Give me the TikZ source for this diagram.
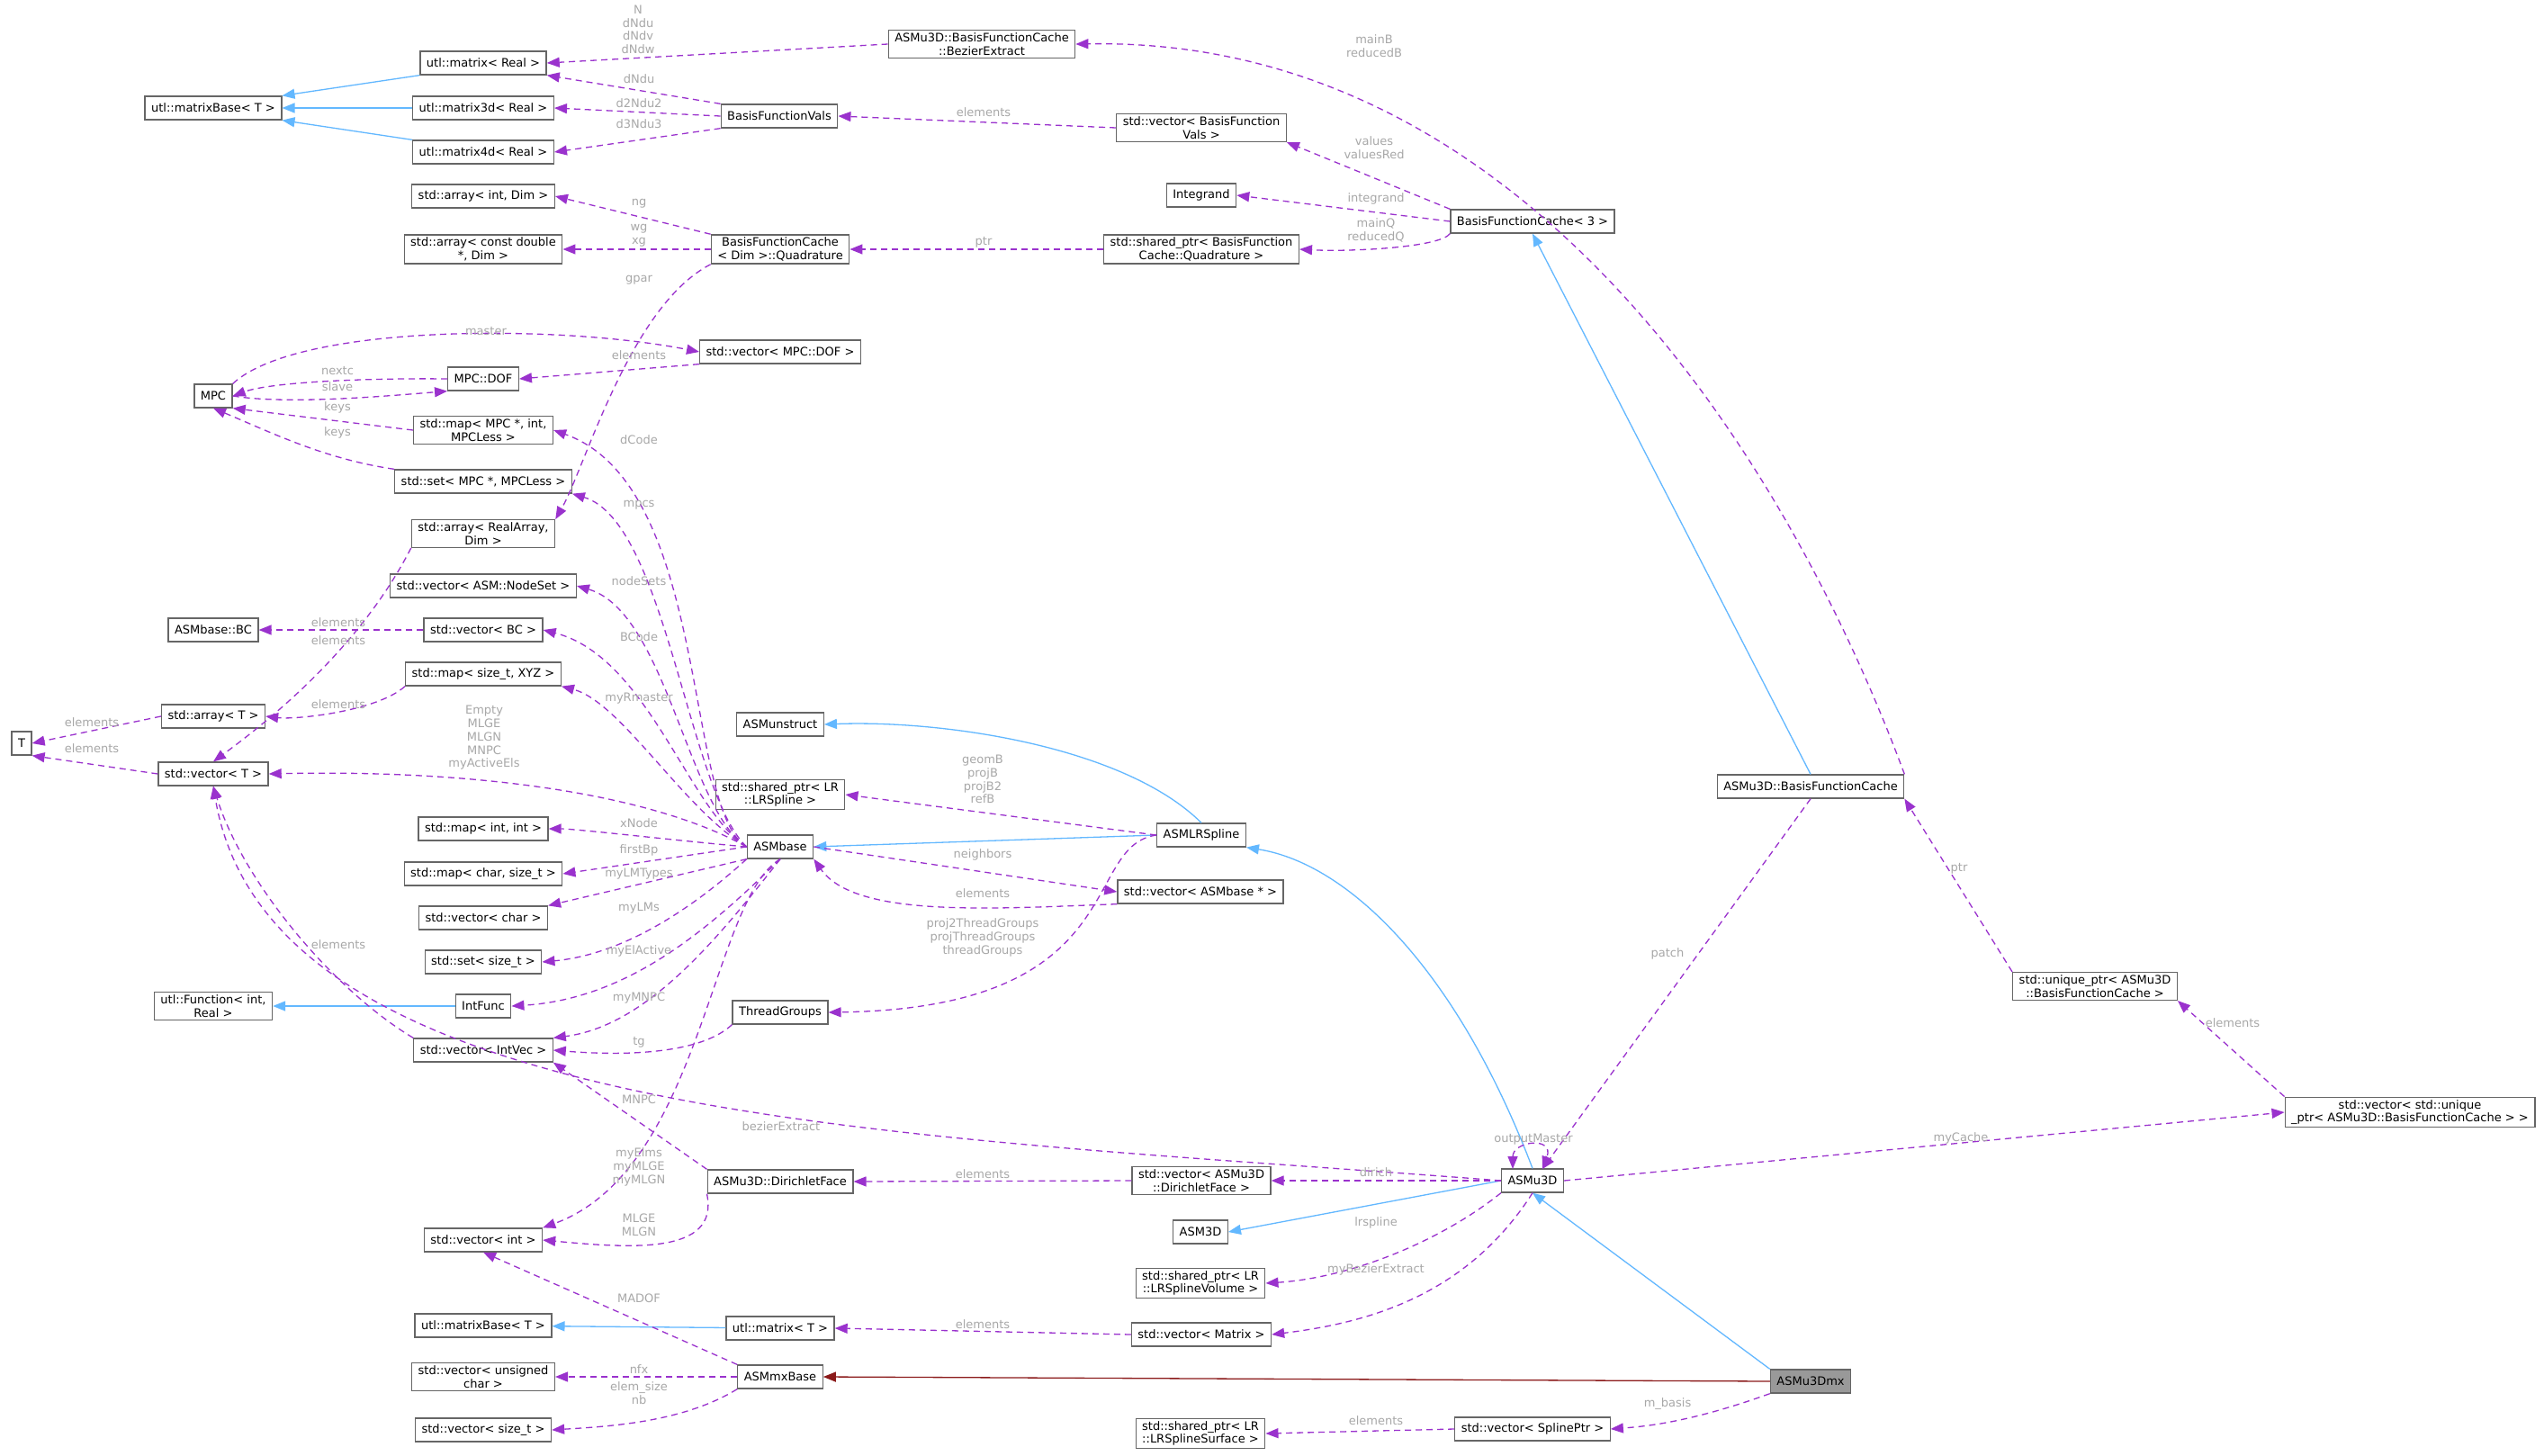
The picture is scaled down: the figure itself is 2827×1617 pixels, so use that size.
\documentclass[tikz,border=0pt]{standalone}
\usepackage{fontspec}
\setmainfont{DejaVu Sans}
\usetikzlibrary{arrows.meta}
\definecolor{usec}{HTML}{9A32CD}
\definecolor{inhc}{HTML}{63B8FF}
\definecolor{prc}{HTML}{8B1A1A}
\definecolor{lblc}{HTML}{A8A8A8}
\definecolor{bdc}{HTML}{666666}
\begin{document}
\begin{tikzpicture}[x=1pt,y=-1pt,
  every node/.style={font=\fontsize{13}{14.7}\selectfont},
  box/.style={draw=bdc,line width=1.3pt,fill=white,inner xsep=7pt,inner ysep=3pt,minimum height=26pt,align=center},
  use/.style={draw=usec,line width=1.3pt,dash pattern=on 7pt off 5pt,-{Triangle[length=14pt,width=11pt]}},
  inh/.style={draw=inhc,line width=1.3pt,-{Triangle[length=14pt,width=11pt]}},
  prot/.style={draw=prc,line width=1.3pt,-{Triangle[length=14pt,width=11pt]}},
  lbl/.style={text=lblc,align=center,inner sep=0pt}]
\useasboundingbox[fill=white] (0,0) rectangle (2827,1617);
% ---------- nodes ----------
\node[box] (mReal) at (537,70) {utl::matrix< Real >};
\node[box] (mBase) at (237,120) {utl::matrixBase< T >};
\node[box] (m3d) at (537,120) {utl::matrix3d< Real >};
\node[box] (m4d) at (537,169) {utl::matrix4d< Real >};
\node[box] (bfv) at (866,129) {BasisFunctionVals};
\node[box] (bez) at (1091,49) {ASMu3D::BasisFunctionCache\\::BezierExtract};
\node[box] (vbfv) at (1335,142) {std::vector< BasisFunction\\Vals >};
\node[box] (integ) at (1335,217) {Integrand};
\node[box] (bfc3) at (1703,246) {BasisFunctionCache< 3 >};
\node[box] (spq) at (1335,277) {std::shared\_ptr< BasisFunction\\Cache::Quadrature >};
\node[box] (quad) at (867,277) {BasisFunctionCache\\< Dim >::Quadrature};
\node[box] (aint) at (537,218) {std::array< int, Dim >};
\node[box] (acd) at (537,277) {std::array< const double\\*, Dim >};
\node[box] (vdof) at (867,391) {std::vector< MPC::DOF >};
\node[box] (mpc) at (237,440) {MPC};
\node[box] (dof) at (537,421) {MPC::DOF};
\node[box] (mmpc) at (537,478) {std::map< MPC *, int,\\MPCLess >};
\node[box] (smpc) at (537,535) {std::set< MPC *, MPCLess >};
\node[box] (ara) at (537,593) {std::array< RealArray,\\Dim >};
\node[box] (vns) at (537,651) {std::vector< ASM::NodeSet >};
\node[box] (abc) at (237,700) {ASMbase::BC};
\node[box] (vbc) at (537,700) {std::vector< BC >};
\node[box] (mxyz) at (537,749) {std::map< size\_t, XYZ >};
\node[box] (arT) at (237,796) {std::array< T >};
\node[box] (T) at (24,826) {T};
\node[box] (vT) at (237,860) {std::vector< T >};
\node[box] (unst) at (867,805) {ASMunstruct};
\node[box] (splr) at (867,883) {std::shared\_ptr< LR\\::LRSpline >};
\node[box] (mii) at (537,921) {std::map< int, int >};
\node[box] (asmb) at (867,941) {ASMbase};
\node[box] (mcs) at (537,971) {std::map< char, size\_t >};
\node[box] (vch) at (537,1020) {std::vector< char >};
\node[box] (sst) at (537,1069) {std::set< size\_t >};
\node[box] (ufun) at (237,1118) {utl::Function< int,\\Real >};
\node[box] (ifun) at (537,1118) {IntFunc};
\node[box] (tgr) at (867,1125) {ThreadGroups};
\node[box] (viv) at (537,1167) {std::vector< IntVec >};
\node[box] (dface) at (867,1313) {ASMu3D::DirichletFace};
\node[box] (vint) at (537,1378) {std::vector< int >};
\node[box] (mBase2) at (537,1473) {utl::matrixBase< T >};
\node[box] (mT) at (867,1476) {utl::matrix< T >};
\node[box] (vuc) at (537,1530) {std::vector< unsigned\\char >};
\node[box] (mxb) at (867,1530) {ASMmxBase};
\node[box] (vst) at (537,1589) {std::vector< size\_t >};
\node[box] (lrs) at (1335,928) {ASMLRSpline};
\node[box] (vab) at (1334,991) {std::vector< ASMbase * >};
\node[box] (vdf) at (1335,1312) {std::vector< ASMu3D\\::DirichletFace >};
\node[box] (u3d) at (1703,1312) {ASMu3D};
\node[box] (a3d) at (1334,1369) {ASM3D};
\node[box] (spv) at (1334,1426) {std::shared\_ptr< LR\\::LRSplineVolume >};
\node[box] (vmat) at (1335,1483) {std::vector< Matrix >};
\node[box] (sps) at (1334,1593) {std::shared\_ptr< LR\\::LRSplineSurface >};
\node[box] (vsp) at (1703,1588) {std::vector< SplinePtr >};
\node[box] (ubfc) at (2012,874) {ASMu3D::BasisFunctionCache};
\node[box] (uptr) at (2328,1096) {std::unique\_ptr< ASMu3D\\::BasisFunctionCache >};
\node[box] (vuptr) at (2678,1236) {std::vector< std::unique\\\_ptr< ASMu3D::BasisFunctionCache > >};
\node[box,fill=black!40] (mx) at (2012,1535) {ASMu3Dmx};
\coordinate (loopA) at (1681,1299);
\coordinate (loopB) at (1714,1299);
% ---------- inheritance ----------
\draw[inh] (mReal.south west) -- (mBase.north east);
\draw[inh] (m3d) -- (mBase);
\draw[inh] (m4d.north west) -- (mBase.south east);
\draw[inh] (ifun) -- (ufun);
\draw[inh] (mT) -- (mBase2);
\draw[inh] (lrs.north) .. controls (1250,830) and (1050,800) .. (unst.east);
\draw[inh] (lrs.west) -- (asmb.east);
\draw[inh] (u3d.north) .. controls (1620,1080) and (1500,960) .. (lrs.south east);
\draw[inh] (u3d.west) -- (a3d.east);
\draw[inh] (mx.north west) -- (u3d.south);
\draw[inh] (ubfc.north) -- (bfc3.south);
\draw[prot] (mx.west) -- (mxb.east);
% ---------- usage ----------
\draw[use] (bez.west) -- (mReal.east);
\draw[use] (bfv.north west) -- (mReal.south east);
\draw[use] (bfv.west) -- (m3d.east);
\draw[use] (bfv.south west) -- (m4d.east);
\draw[use] (vbfv.west) -- (bfv.east);
\draw[use] (ubfc.north east) .. controls (1990,520) and (1700,40) .. (bez.east);
\draw[use] (bfc3.north west) -- (vbfv.south east);
\draw[use] (bfc3.west) -- (integ.east);
\draw[use] (bfc3.south west) .. controls (1600,275) and (1500,280) .. (spq.east);
\draw[use] (spq.west) -- (quad.east);
\draw[use] (quad.north west) -- (aint.east);
\draw[use] (quad.west) -- (acd.east);
\draw[use] (quad.south west) .. controls (700,340) and (650,520) .. (ara.north east);
\draw[use] (mpc.north east) .. controls (330,360) and (620,360) .. (vdof.west);
\draw[use] (vdof.south west) -- (dof.east);
\draw[use] (dof.west) .. controls (400,420) and (300,425) .. (mpc.east);
\draw[use] (mpc.east) .. controls (320,450) and (430,440) .. (dof.south west);
\draw[use] (mmpc.west) -- (mpc.south east);
\draw[use] (smpc.north west) .. controls (360,510) and (300,480) .. (mpc.south);
\draw[use] (asmb.west) .. controls (760,900) and (790,540) .. (mmpc.east);
\draw[use] (asmb.west) .. controls (765,880) and (740,580) .. (smpc.south east);
\draw[use] (asmb.west) .. controls (765,900) and (740,680) .. (vns.east);
\draw[use] (asmb.west) .. controls (765,900) and (720,730) .. (vbc.east);
\draw[use] (asmb.west) .. controls (760,900) and (690,780) .. (mxyz.south east);
\draw[use] (asmb.west) .. controls (720,880) and (520,855) .. (vT.east);
\draw[use] (asmb.west) .. controls (760,935) and (640,921) .. (mii.east);
\draw[use] (asmb.west) -- (mcs.east);
\draw[use] (asmb.south west) -- (vch.north east);
\draw[use] (asmb.south west) .. controls (780,1000) and (700,1060) .. (sst.east);
\draw[use] (asmb.south) .. controls (790,1030) and (700,1110) .. (ifun.east);
\draw[use] (asmb.south) .. controls (800,1040) and (720,1140) .. (viv.north east);
\draw[use] (asmb.south) .. controls (790,1000) and (780,1300) .. (vint.north east);
\draw[use] (vbc.west) -- (abc.east);
\draw[use] (ara.south west) .. controls (400,720) and (300,800) .. (vT.north);
\draw[use] (mxyz.south west) .. controls (420,790) and (330,800) .. (arT.east);
\draw[use] (arT.west) -- (T.east);
\draw[use] (vT.west) -- (T.south east);
\draw[use] (viv.north west) .. controls (370,1100) and (270,980) .. (vT.south);
\draw[use] (tgr.south west) .. controls (780,1170) and (700,1174) .. (viv.east);
\draw[use] (dface.north west) -- (viv.south east);
\draw[use] (dface.south west) .. controls (800,1395) and (700,1387) .. (vint.east);
\draw[use] (u3d.west) .. controls (1000,1260) and (300,1250) .. (vT.south);
\draw[use] (mxb.north west) -- (vint.south);
\draw[use] (mxb.west) -- (vuc.east);
\draw[use] (mxb.south west) .. controls (760,1580) and (680,1585) .. (vst.east);
\draw[use] (lrs.west) -- (splr.east);
\draw[use] (asmb.east) -- (vab.west);
\draw[use] (vab.south west) .. controls (1100,1010) and (950,1020) .. (asmb.south east);
\draw[use] (lrs.west) .. controls (1200,940) and (1260,1120) .. (tgr.east);
\draw[use] (u3d.west) -- (vdf.east);
\draw[use] (vdf.west) -- (dface.east);
\draw[use,{Triangle[length=14pt,width=11pt]}-{Triangle[length=14pt,width=11pt]}] (loopA) .. controls (1681,1268) and (1728,1262) .. (loopB);
\draw[use] (u3d.south west) .. controls (1600,1380) and (1500,1420) .. (spv.east);
\draw[use] (u3d.south) .. controls (1630,1440) and (1520,1470) .. (vmat.east);
\draw[use] (vmat.west) -- (mT.east);
\draw[use] (mx.south west) .. controls (1880,1580) and (1830,1585) .. (vsp.east);
\draw[use] (vsp.west) -- (sps.east);
\draw[use] (ubfc.south) -- (loopB);
\draw[use] (uptr.north west) -- (ubfc.south east);
\draw[use] (vuptr.north west) -- (uptr.south east);
\draw[use] (u3d.east) -- (vuptr.west);
% ---------- labels ----------
\node[lbl] (l1) at (709,33) {N\\dNdu\\dNdv\\dNdw};
\node[lbl] (l2) at (710,88) {dNdu};
\node[lbl] (l3) at (710,115) {d2Ndu2};
\node[lbl] (l4) at (710,138) {d3Ndu3};
\node[lbl] (l5) at (1093,125) {elements};
\node[lbl] (l6) at (1527,51) {mainB\\reducedB};
\node[lbl] (l7) at (1527,164) {values\\valuesRed};
\node[lbl] (l8) at (1529,221) {integrand};
\node[lbl] (l9) at (1529,256) {mainQ\\reducedQ};
\node[lbl] (l10) at (1093,269) {ptr};
\node[lbl] (l11) at (710,226) {ng};
\node[lbl] (l12) at (710,262) {wg\\xg};
\node[lbl] (l13) at (710,311) {gpar};
\node[lbl] (l14) at (540,368) {master};
\node[lbl] (l15) at (710,395) {elements};
\node[lbl] (l16) at (375,412) {nextc};
\node[lbl] (l17) at (375,430) {slave};
\node[lbl] (l18) at (375,453) {keys};
\node[lbl] (l19) at (375,481) {keys};
\node[lbl] (l20) at (710,489) {dCode};
\node[lbl] (l21) at (710,561) {mpcs};
\node[lbl] (l22) at (710,646) {nodeSets};
\node[lbl] (l23) at (376,692) {elements};
\node[lbl] (l24) at (376,712) {elements};
\node[lbl] (l25) at (710,708) {BCode};
\node[lbl] (l26) at (376,783) {elements};
\node[lbl] (l27) at (102,803) {elements};
\node[lbl] (l28) at (102,832) {elements};
\node[lbl] (l29) at (710,776) {myRmaster};
\node[lbl] (l30) at (538,820) {Empty\\MLGE\\MLGN\\MNPC\\myActiveEls};
\node[lbl] (l31) at (710,915) {xNode};
\node[lbl] (l32) at (710,945) {firstBp};
\node[lbl] (l33) at (710,971) {myLMTypes};
\node[lbl] (l34) at (710,1009) {myLMs};
\node[lbl] (l35) at (710,1057) {myElActive};
\node[lbl] (l36) at (376,1050) {elements};
\node[lbl] (l37) at (710,1109) {myMNPC};
\node[lbl] (l38) at (710,1158) {tg};
\node[lbl] (l39) at (710,1222) {MNPC};
\node[lbl] (l40) at (868,1252) {bezierExtract};
\node[lbl] (l41) at (710,1297) {myElms\\myMLGE\\myMLGN};
\node[lbl] (l42) at (710,1361) {MLGE\\MLGN};
\node[lbl] (l43) at (710,1443) {MADOF};
\node[lbl] (l44) at (710,1522) {nfx};
\node[lbl] (l45) at (710,1548) {elem\_size\\nb};
\node[lbl] (l46) at (1092,866) {geomB\\projB\\projB2\\refB};
\node[lbl] (l47) at (1092,950) {neighbors};
\node[lbl] (l48) at (1092,993) {elements};
\node[lbl] (l49) at (1092,1042) {proj2ThreadGroups\\projThreadGroups\\threadGroups};
\node[lbl] (l50) at (1704,1266) {outputMaster};
\node[lbl] (l51) at (1529,1303) {dirich};
\node[lbl] (l52) at (1092,1305) {elements};
\node[lbl] (l53) at (1529,1359) {lrspline};
\node[lbl] (l54) at (1529,1411) {myBezierExtract};
\node[lbl] (l55) at (1092,1472) {elements};
\node[lbl] (l56) at (1529,1579) {elements};
\node[lbl] (l57) at (1853,1060) {patch};
\node[lbl] (l58) at (2177,965) {ptr};
\node[lbl] (l59) at (2481,1137) {elements};
\node[lbl] (l60) at (2179,1265) {myCache};
\node[lbl] (l61) at (1853,1560) {m\_basis};
\end{tikzpicture}
\end{document}
